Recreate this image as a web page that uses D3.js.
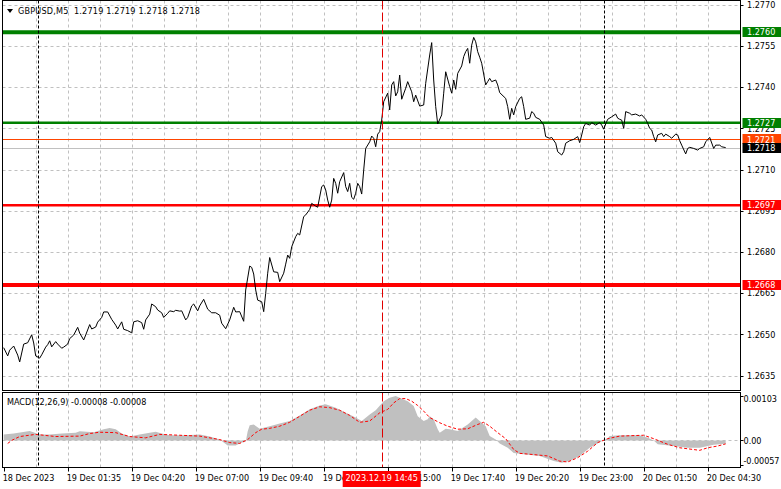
<!DOCTYPE html>
<html><head><meta charset="utf-8">
<script src="https://cdn.jsdelivr.net/npm/d3@7"></script>
<style>
html,body{margin:0;padding:0;background:#fff;}
svg{display:block;font-family:"DejaVu Sans Condensed","DejaVu Sans",sans-serif;font-stretch:condensed;font-size:9px;}
</style></head><body>
<svg id="c" width="781" height="489"></svg>
<script>
// ---------- DATA ----------
const symbolTitle = "GBPUSD,M5";
const ohlcValues = ["1.2719", "1.2719", "1.2718", "1.2718"];
const macdTitle = "MACD(12,26,9) -0.00008 -0.00008";

const timeLabels = ["18 Dec 2023", "19 Dec 01:35", "19 Dec 04:20", "19 Dec 07:00", "19 Dec 09:40", "19 Dec 12:20",
  "19 Dec 15:00", "19 Dec 17:40", "19 Dec 20:20", "19 Dec 23:00", "20 Dec 01:50", "20 Dec 04:30"];
const timeLabelBars = [0, 32, 64, 96, 128, 160, 192, 224, 256, 288, 320, 352];

const priceTicks = [1.2770, 1.2755, 1.2740, 1.2725, 1.2710, 1.2695, 1.2680, 1.2665, 1.2650, 1.2635];
const macdTicks = [0.00103, 0.00, -0.00057];
const macdTickLabels = ["0.00103", "0.00", "-0.00057"];

const levelPrices = [1.2760, 1.2727, 1.2697, 1.2668];
const askPrice = 1.2721;
const bidPrice = 1.2718;

const separatorBars = [17, 300];
const crosshairBar = 189;
const crosshairLabel = "2023.12.19 14:45";

const priceBars = [0,2,3,5,7,8,10,12,14,15,16,18,19,21,22,23,24,26,27,29,30,32,33,35,37,38,40,41,43,44,46,47,49,50,52,54,56,57,59,60,62,64,65,67,69,70,71,73,74,76,77,79,80,82,83,85,86,88,89,91,92,94,95,97,98,100,102,104,106,108,109,111,113,115,116,118,120,121,123,124,125,126,127,129,130,131,132,133,135,137,138,140,141,142,143,144,146,147,148,150,151,153,154,156,157,159,160,161,162,163,164,165,166,167,168,170,171,172,173,174,175,176,177,178,179,180,181,183,184,185,186,187,188,189,190,192,193,194,195,196,197,198,199,201,202,204,205,206,208,210,211,213,214,215,216,217,219,220,221,223,224,225,226,227,229,230,231,232,233,234,235,236,237,238,239,241,242,243,244,246,247,248,251,252,253,254,255,256,258,259,260,261,263,264,265,266,268,270,271,273,274,276,277,279,280,281,283,285,287,288,289,290,291,293,294,296,298,299,300,301,302,304,306,307,308,309,310,311,313,314,316,318,319,321,322,323,324,325,326,327,329,330,331,333,334,336,337,338,339,341,342,343,345,347,348,350,351,353,355,356,358,359,361];
const closes = [1.26452,1.26422,1.26443,1.26458,1.26425,1.26400,1.26465,1.26470,1.26499,1.26469,1.26422,1.26414,1.26426,1.26454,1.26463,1.26477,1.26455,1.26474,1.26465,1.26450,1.26454,1.26465,1.26485,1.26498,1.26526,1.26505,1.26480,1.26498,1.26536,1.26520,1.26527,1.26545,1.26562,1.26582,1.26582,1.26555,1.26534,1.26520,1.26546,1.26519,1.26514,1.26506,1.26546,1.26550,1.26543,1.26519,1.26553,1.26574,1.26611,1.26601,1.26589,1.26579,1.26562,1.26577,1.26586,1.26583,1.26588,1.26585,1.26586,1.26553,1.26562,1.26604,1.26611,1.26586,1.26604,1.26628,1.26592,1.26579,1.26579,1.26570,1.26541,1.26521,1.26553,1.26599,1.26582,1.26583,1.26548,1.26662,1.26749,1.26744,1.26720,1.26662,1.26625,1.26619,1.26583,1.26650,1.26723,1.26780,1.26728,1.26726,1.26692,1.26723,1.26756,1.26789,1.26777,1.26819,1.26856,1.26868,1.26862,1.26929,1.26935,1.26955,1.26977,1.26967,1.26963,1.27038,1.27044,1.27026,1.26989,1.26963,1.26989,1.27068,1.27050,1.27014,1.27056,1.27089,1.27038,1.27020,1.27050,1.26999,1.26992,1.27014,1.27050,1.27038,1.27011,1.27098,1.27177,1.27201,1.27222,1.27214,1.27183,1.27229,1.27238,1.27280,1.27347,1.27378,1.27317,1.27408,1.27420,1.27368,1.27383,1.27444,1.27356,1.27396,1.27420,1.27383,1.27347,1.27371,1.27331,1.27335,1.27414,1.27517,1.27562,1.27426,1.27329,1.27266,1.27299,1.27378,1.27456,1.27402,1.27378,1.27426,1.27392,1.27450,1.27477,1.27511,1.27529,1.27541,1.27487,1.27553,1.27581,1.27565,1.27529,1.27509,1.27487,1.27408,1.27420,1.27432,1.27420,1.27426,1.27408,1.27380,1.27359,1.27329,1.27283,1.27323,1.27299,1.27329,1.27359,1.27365,1.27329,1.27283,1.27287,1.27311,1.27305,1.27290,1.27283,1.27262,1.27220,1.27214,1.27217,1.27196,1.27165,1.27153,1.27165,1.27196,1.27205,1.27210,1.27220,1.27198,1.27226,1.27256,1.27268,1.27262,1.27271,1.27262,1.27271,1.27262,1.27247,1.27266,1.27283,1.27292,1.27302,1.27287,1.27283,1.27280,1.27250,1.27311,1.27305,1.27299,1.27302,1.27295,1.27299,1.27283,1.27268,1.27250,1.27244,1.27220,1.27201,1.27226,1.27232,1.27220,1.27229,1.27220,1.27214,1.27229,1.27226,1.27205,1.27189,1.27157,1.27177,1.27181,1.27177,1.27171,1.27177,1.27183,1.27201,1.27217,1.27177,1.27189,1.27189,1.27183,1.27180];

const histBars = [0,5,13,18,23,29,36,38,45,50,53,56,59,63,68,73,76,79,83,91,98,103,108,112,116,119,121,122,123,125,128,133,138,143,148,153,158,161,166,171,176,179,183,186,190,193,196,198,202,205,207,210,212,213,215,217,218,221,223,227,232,236,238,241,243,246,248,252,255,260,268,275,279,283,288,293,298,302,303,308,318,322,325,327,335,342,348,355,361];
const macdHist = [0.00014,0.00016,0.00022,0.00014,0.00014,0.00016,0.00018,0.00021,0.00019,0.00026,0.00029,0.00026,0.00016,0.00009,0.00014,0.00018,0.00020,0.00016,0.00012,0.00012,0.00014,0.00009,0.00002,-0.00012,-0.00012,-0.00005,-0.00003,0.00021,0.00035,0.00037,0.00027,0.00033,0.00039,0.00045,0.00058,0.00072,0.00081,0.00084,0.00076,0.00064,0.00053,0.00045,0.00060,0.00070,0.00091,0.00099,0.00103,0.00099,0.00091,0.00080,0.00056,0.00045,0.00049,0.00056,0.00049,0.00026,0.00018,0.00027,0.00026,0.00022,0.00037,0.00053,0.00045,0.00033,0.00010,0.00002,-0.00007,-0.00017,-0.00029,-0.00032,-0.00036,-0.00048,-0.00052,-0.00048,-0.00036,-0.00017,-0.00004,0.00005,0.00010,0.00012,0.00012,0.00006,0.00000,-0.00009,-0.00013,-0.00017,-0.00017,-0.00010,-0.00008];

const signalBars = [2,4,8,16,26,38,43,48,56,63,71,78,88,98,108,113,118,122,126,129,133,138,143,148,153,158,163,168,173,178,183,188,192,195,198,201,204,207,210,213,218,222,227,232,237,240,243,247,251,255,258,263,272,278,282,287,292,297,302,308,320,325,332,338,348,352,357,361];
const macdSignal = [-0.00007,0.00000,0.00009,0.00014,0.00009,0.00010,0.00016,0.00019,0.00018,0.00009,0.00006,0.00014,0.00012,0.00010,0.00002,-0.00005,-0.00007,0.00002,0.00018,0.00026,0.00028,0.00033,0.00042,0.00056,0.00070,0.00078,0.00076,0.00070,0.00058,0.00042,0.00045,0.00064,0.00072,0.00087,0.00097,0.00097,0.00091,0.00081,0.00068,0.00053,0.00041,0.00033,0.00026,0.00027,0.00037,0.00042,0.00033,0.00018,0.00004,-0.00021,-0.00030,-0.00032,-0.00036,-0.00048,-0.00050,-0.00040,-0.00025,-0.00005,0.00004,0.00010,0.00012,0.00004,-0.00009,-0.00017,-0.00023,-0.00017,-0.00013,-0.00008];

// ---------- LAYOUT ----------
const L = 2.5, R = 740.5, mainTop = 0.5, mainBot = 390.5, macdTop = 392.5, macdBot = 467.5;
const svg = d3.select("#c");
const x = d3.scaleLinear().domain([0, 368]).range([3.7, 739.7]);
const y = d3.scaleLinear().domain([1.2635, 1.2770]).range([375.7, 4.7]);
const ym = d3.scaleLinear().domain([-0.00057, 0.00103]).range([465, 396]);
const px = v => Math.round(v) + 0.5;

const defs = svg.append("defs");
defs.append("clipPath").attr("id", "cm").append("rect").attr("x", L).attr("y", mainTop).attr("width", R - L).attr("height", mainBot - mainTop);
defs.append("clipPath").attr("id", "cd").append("rect").attr("x", L).attr("y", macdTop).attr("width", R - L).attr("height", macdBot - macdTop);

const gm = svg.append("g").attr("clip-path", "url(#cm)");
const gd = svg.append("g").attr("clip-path", "url(#cd)");

// grid
const gridBars = d3.range(16, 368, 16);
gm.selectAll(".hg").data(priceTicks).join("line")
  .attr("x1", L).attr("x2", R).attr("y1", d => px(y(d))).attr("y2", d => px(y(d)))
  .attr("stroke", "#c0c0c0").attr("stroke-dasharray", "3,3");
[gm, gd].forEach((g, i) => {
  g.selectAll(".vg").data(gridBars).join("line")
    .attr("x1", d => px(x(d))).attr("x2", d => px(x(d)))
    .attr("y1", i ? macdTop : mainTop).attr("y2", i ? macdBot : mainBot)
    .attr("stroke", "#c0c0c0").attr("stroke-dasharray", "3,3");
});
gd.append("line").attr("x1", L).attr("x2", R).attr("y1", px(ym(0))).attr("y2", px(ym(0)))
  .attr("stroke", "#c0c0c0").attr("stroke-dasharray", "3,3");

// MACD histogram
const histData = histBars.map((b, i) => [b, macdHist[i]]);
gd.append("path").datum(histData)
  .attr("d", d3.area().x(d => x(d[0])).y0(ym(0)).y1(d => ym(d[1])))
  .attr("fill", "#c0c0c0");
// signal
const sigData = signalBars.map((b, i) => [b, macdSignal[i]]);
gd.append("path").datum(sigData)
  .attr("d", d3.line().x(d => x(d[0])).y(d => ym(d[1])))
  .attr("fill", "none").attr("stroke", "#ff0000").attr("stroke-width", 1).attr("stroke-dasharray", "3,2");

// levels
const levelColor = ["#008000", "#008000", "#ff0000", "#ff0000"];
const levelWidth = [4, 2.5, 2.5, 4];
gm.selectAll(".lv").data(levelPrices).join("line")
  .attr("x1", L).attr("x2", R).attr("y1", d => y(d)).attr("y2", d => y(d))
  .attr("stroke", (d, i) => levelColor[i]).attr("stroke-width", (d, i) => levelWidth[i]);
// ask / bid
gm.append("line").attr("x1", L).attr("x2", R).attr("y1", px(y(askPrice))).attr("y2", px(y(askPrice))).attr("stroke", "#ff4500");
gm.append("line").attr("x1", L).attr("x2", R).attr("y1", px(y(bidPrice))).attr("y2", px(y(bidPrice))).attr("stroke", "#c0c0c0");

// price line
const priceData = priceBars.map((b, i) => [b, closes[i]]);
gm.append("path").datum(priceData)
  .attr("d", d3.line().x(d => x(d[0])).y(d => y(d[1])))
  .attr("fill", "none").attr("stroke", "#000").attr("stroke-width", 1);

// separators and crosshair
[[gm, mainTop, mainBot], [gd, macdTop, macdBot]].forEach(([g, t, b]) => {
  g.selectAll(".sep").data(separatorBars).join("line")
    .attr("x1", d => px(x(d))).attr("x2", d => px(x(d))).attr("y1", t).attr("y2", b)
    .attr("stroke", "#000").attr("stroke-dasharray", "3,2");
  g.append("line").attr("x1", px(x(crosshairBar))).attr("x2", px(x(crosshairBar))).attr("y1", t).attr("y2", b)
    .attr("stroke", "#e00000").attr("stroke-dasharray", "9,3");
});

// frames
svg.append("rect").attr("x", L).attr("y", mainTop).attr("width", R - L).attr("height", mainBot - mainTop).attr("fill", "none").attr("stroke", "#000");
svg.append("rect").attr("x", L).attr("y", macdTop).attr("width", R - L).attr("height", macdBot - macdTop).attr("fill", "none").attr("stroke", "#000");

// right price axis
const ax = svg.append("g");
ax.selectAll(".pt").data(priceTicks).join("line")
  .attr("x1", R).attr("x2", R + 3).attr("y1", d => px(y(d))).attr("y2", d => px(y(d))).attr("stroke", "#000");
ax.selectAll(".pl").data(priceTicks).join("text")
  .attr("x", 747).attr("y", d => y(d)).attr("dy", "0.35em").attr("fill", "#000")
  .text(d => d.toFixed(4));
// macd axis
ax.selectAll(".mt").data(macdTicks).join("line")
  .attr("x1", R).attr("x2", R + 3).attr("y1", d => px(ym(d))).attr("y2", d => px(ym(d))).attr("stroke", "#000");
ax.selectAll(".ml").data(macdTicks).join("text")
  .attr("x", 743.5).attr("y", d => Math.max(399, Math.min(461, ym(d)))).attr("dy", "0.35em").attr("fill", "#000")
  .attr("textLength", (d, i) => i === 2 ? 36 : null)
  .text((d, i) => macdTickLabels[i]);

// price boxes
const boxes = levelPrices.map((p, i) => ({p, c: levelColor[i]}))
  .concat([{p: askPrice, c: "#ff4500"}, {p: bidPrice, c: "#000000"}]);
const bg = svg.append("g");
boxes.forEach(b => {
  const cy = y(b.p);
  bg.append("rect").attr("x", R + 2).attr("y", Math.round(cy) - 5).attr("width", 781 - R - 2).attr("height", 10).attr("fill", b.c);
  bg.append("text").attr("x", 747).attr("y", cy).attr("dy", "0.35em").attr("fill", "#fff").text(b.p.toFixed(4));
});

// time axis
const tx = svg.append("g");
tx.selectAll(".tt").data(timeLabelBars).join("line")
  .attr("x1", d => px(x(d))).attr("x2", d => px(x(d))).attr("y1", macdBot).attr("y2", macdBot + 4).attr("stroke", "#000");
tx.selectAll(".tl").data(timeLabelBars).join("text")
  .attr("x", d => x(d) - 1).attr("y", 481).attr("fill", "#000").text((d, i) => timeLabels[i]);
const cx = x(crosshairBar);
tx.append("rect").attr("x", cx - 39).attr("y", 471).attr("width", 78).attr("height", 16).attr("fill", "#ff0000");
tx.append("text").attr("x", cx).attr("y", 481).attr("text-anchor", "middle").attr("fill", "#fff").text(crosshairLabel);

// titles
svg.append("path").attr("d", "M7,9L13,9L10,13Z").attr("fill", "#000");
svg.append("text").attr("x", 18).attr("y", 14).attr("fill", "#000").style("white-space", "pre")
  .attr("textLength", 182)
  .text(symbolTitle + "  " + ohlcValues.join(" "));
svg.append("text").attr("x", 7).attr("y", 405).attr("fill", "#000").text(macdTitle);
</script>
</body></html>
